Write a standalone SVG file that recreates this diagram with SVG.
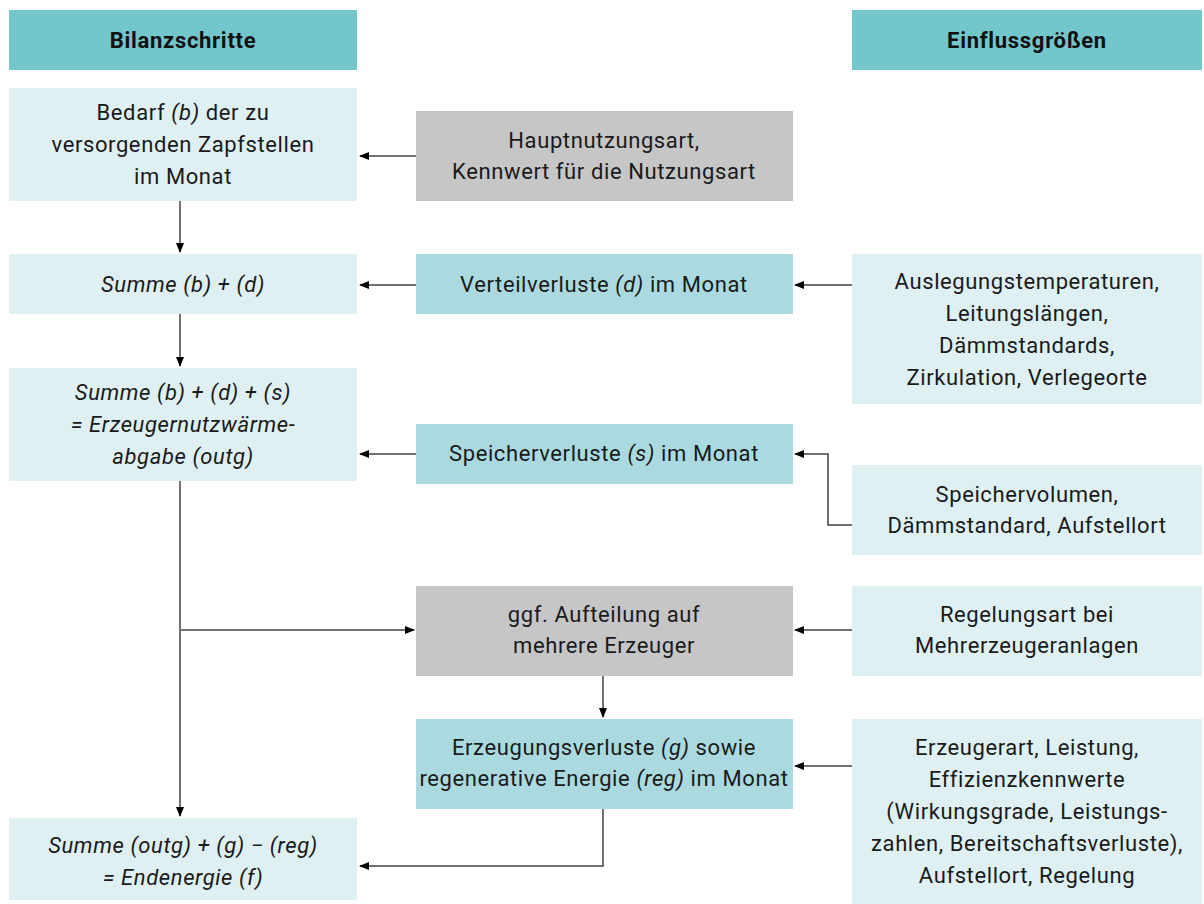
<svg xmlns="http://www.w3.org/2000/svg" width="1204" height="904" viewBox="0 0 1204 904">
<defs>
<marker id="ah" markerWidth="10" markerHeight="8" refX="9" refY="4" orient="auto" markerUnits="userSpaceOnUse">
<path d="M0,0 L10,4 L0,8 Z" fill="#000"/>
</marker>
<style>
text{font-family:Roboto,"Liberation Sans",sans-serif;font-size:22px;letter-spacing:0.6px;fill:#1a1a1a;text-anchor:middle}
.h{font-weight:bold;fill:#111;letter-spacing:0.7px}
.i{font-style:italic}
.hd{fill:#72C6CC}
.lt{fill:#DFF0F3}
.md{fill:#AADADF}
.gr{fill:#C6C6C6}
.c{fill:none;stroke:#404040;stroke-width:1.5;marker-end:url(#ah)}
</style>
</defs>
<rect width="1204" height="904" fill="#fff"/>
<g id="hdr-left"><rect class="hd" x="9" y="10" width="348" height="60"/><text class="h" x="183" y="48">Bilanzschritte</text></g>
<g id="hdr-right"><rect class="hd" x="852" y="10" width="350" height="60"/><text class="h" x="1027" y="48">Einflussgrößen</text></g>

<g id="n-bedarf"><rect class="lt" x="9" y="88" width="348" height="113"/>
<text x="183" y="120">Bedarf <tspan class="i">(b)</tspan> der zu</text>
<text x="183" y="152">versorgenden Zapfstellen</text>
<text x="183" y="184">im Monat</text></g>

<g id="n-haupt"><rect class="gr" x="416" y="111" width="377" height="90"/>
<text x="604" y="148">Hauptnutzungsart,</text>
<text x="604" y="179">Kennwert für die Nutzungsart</text></g>

<g id="n-sumbd"><rect class="lt" x="9" y="254" width="348" height="60"/>
<text class="i" x="183" y="292">Summe (b) + (d)</text></g>

<g id="n-verteil"><rect class="md" x="416" y="254" width="377" height="60"/>
<text x="604" y="292">Verteilverluste <tspan class="i">(d)</tspan> im Monat</text></g>

<g id="n-ausleg"><rect class="lt" x="852" y="254" width="350" height="150"/>
<text x="1027" y="289">Auslegungstemperaturen,</text>
<text x="1027" y="321">Leitungslängen,</text>
<text x="1027" y="353">Dämmstandards,</text>
<text x="1027" y="385">Zirkulation, Verlegeorte</text></g>

<g id="n-sumbds"><rect class="lt" x="9" y="368" width="348" height="113"/>
<text class="i" x="183" y="400">Summe (b) + (d) + (s)</text>
<text class="i" x="183" y="432">= Erzeugernutzwärme-</text>
<text class="i" x="183" y="464">abgabe (outg)</text></g>

<g id="n-speicher"><rect class="md" x="416" y="424" width="377" height="60"/>
<text x="604" y="461">Speicherverluste <tspan class="i">(s)</tspan> im Monat</text></g>

<g id="n-spvol"><rect class="lt" x="852" y="465" width="350" height="90"/>
<text x="1027" y="502">Speichervolumen,</text>
<text x="1027" y="533">Dämmstandard, Aufstellort</text></g>

<g id="n-aufteil"><rect class="gr" x="416" y="586" width="377" height="90"/>
<text x="604" y="622">ggf. Aufteilung auf</text>
<text x="604" y="653">mehrere Erzeuger</text></g>

<g id="n-regel"><rect class="lt" x="852" y="586" width="350" height="90"/>
<text x="1027" y="622">Regelungsart bei</text>
<text x="1027" y="653">Mehrerzeugeranlagen</text></g>

<g id="n-erzverl"><rect class="md" x="416" y="719" width="377" height="90"/>
<text x="604" y="755">Erzeugungsverluste <tspan class="i">(g)</tspan> sowie</text>
<text x="604" y="786">regenerative Energie <tspan class="i">(reg)</tspan> im Monat</text></g>

<g id="n-erzart"><rect class="lt" x="852" y="719" width="350" height="185"/>
<text x="1027" y="755">Erzeugerart, Leistung,</text>
<text x="1027" y="787">Effizienzkennwerte</text>
<text x="1027" y="819">(Wirkungsgrade, Leistungs-</text>
<text x="1027" y="851">zahlen, Bereitschaftsverluste),</text>
<text x="1027" y="883">Aufstellort, Regelung</text></g>

<g id="n-endenergie"><rect class="lt" x="9" y="818" width="348" height="82"/>
<text class="i" x="183" y="853">Summe (outg) + (g) − (reg)</text>
<text class="i" x="183" y="885">= Endenergie (f)</text></g>

<g id="connectors">
<path class="c" d="M180,201 V252"/>
<path class="c" d="M416,156 H360"/>
<path class="c" d="M180,314 V366"/>
<path class="c" d="M416,285 H360"/>
<path class="c" d="M852,285 H795"/>
<path class="c" d="M416,454 H360"/>
<path class="c" d="M852,525 H828 V454 H795"/>
<path class="c" d="M180,481 V816"/>
<path class="c" d="M181,630 H414"/>
<path class="c" d="M852,630 H795"/>
<path class="c" d="M603,676 V717"/>
<path class="c" d="M852,766 H795"/>
<path class="c" d="M603,809 V866 H360"/>
</g>
</svg>
